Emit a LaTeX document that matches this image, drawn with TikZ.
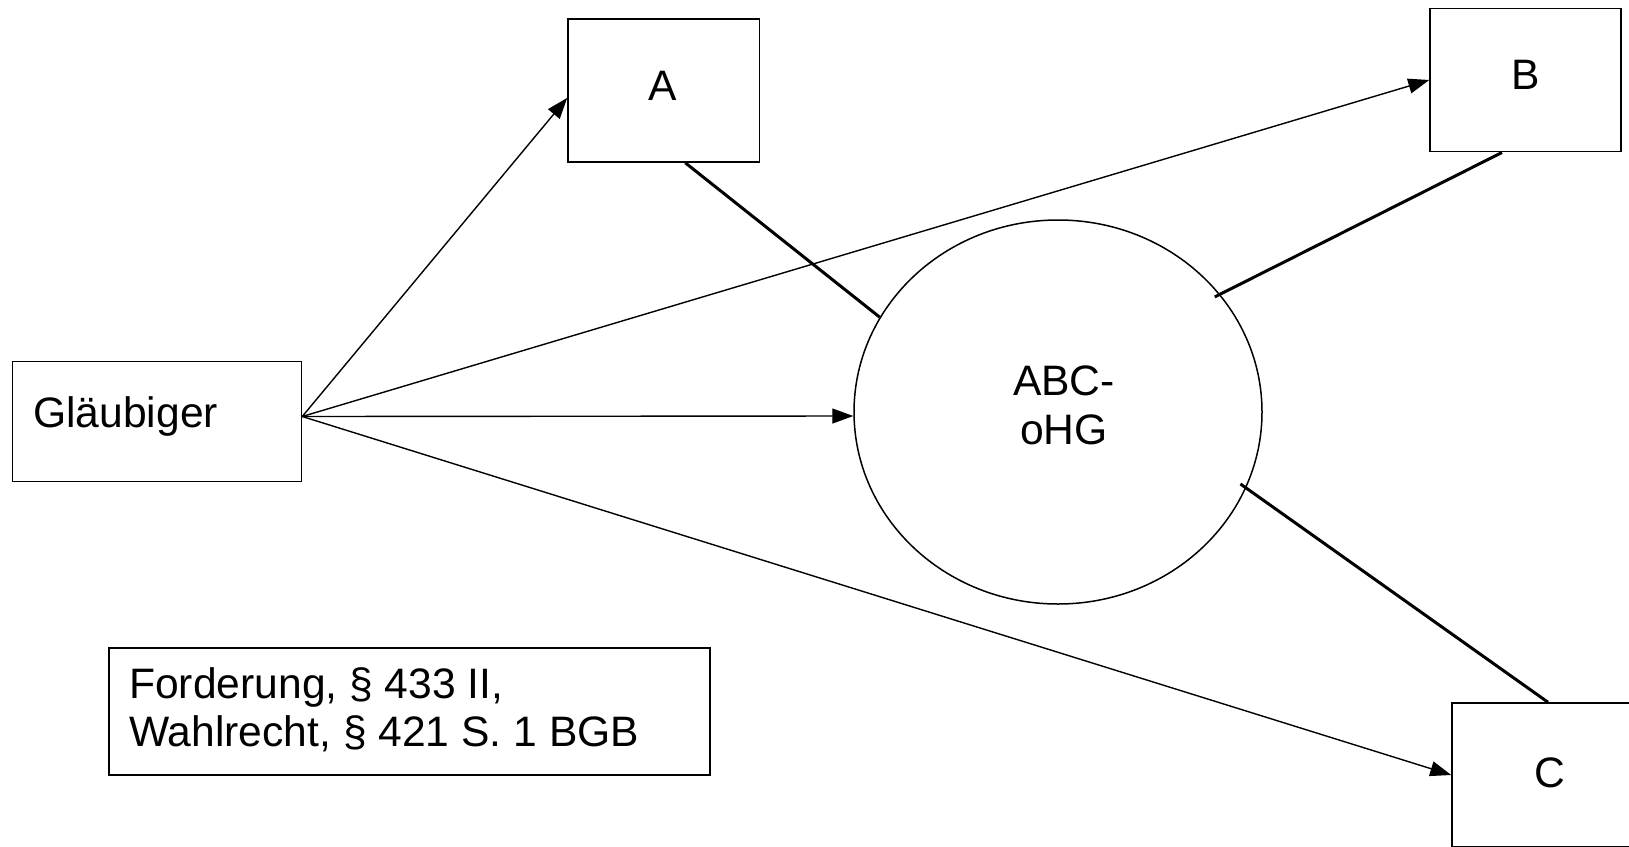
\documentclass[tikz,border=0pt]{standalone}
\usepackage{fontspec}
\setmainfont{Liberation Sans}
\usetikzlibrary{arrows.meta,shapes.geometric,calc}
\begin{document}
\begin{tikzpicture}[x=1pt,y=-1pt,
  box/.style={draw, line width=1.5pt, inner sep=0pt, fill=none},
  lbl/.style={inner sep=0pt, font=\fontsize{42.6}{48}\selectfont},
  arr/.style={line width=1.4pt, -{Triangle[length=21pt,width=15pt]}},
  tie/.style={line width=3pt}]
\useasboundingbox (0,0) rectangle (1629,846);
% boxes
\node[box, minimum width=289pt, minimum height=120pt] (G) at (157,421.5) {};
\node[box, minimum width=191.5pt, minimum height=143.3pt] (A) at (663.75,90.4) {};
\node[box, minimum width=191pt, minimum height=143.4pt] (B) at (1525.5,80) {};
\node[box, minimum width=192pt, minimum height=144pt] (C) at (1548,775) {};
\node[box, ellipse, minimum width=408pt, minimum height=384pt] (E) at (1058,412) {};
\node[box, minimum width=601pt, minimum height=127pt] (F) at (409.5,711.5) {};
% texts
\node[lbl, anchor=base west] (tG) at (33,427) {Gläubiger};
\node[lbl, anchor=base] (tA) at (663,100) {A};
\node[lbl, anchor=base] (tB) at (1526,89) {B};
\node[lbl, anchor=base] (tC) at (1550,787) {C};
\node[lbl, anchor=base] (tE1) at (1064,395) {ABC-};
\node[lbl, anchor=base] (tE2) at (1064,444) {oHG};
\node[lbl, anchor=base west] (tF1) at (129,698) {Forderung, § 433 II,};
\node[lbl, anchor=base west] (tF2) at (129,746) {Wahlrecht, § 421 S. 1 BGB};
% arrows
\coordinate (gs) at ([yshift=5pt]G.east);
\draw[arr] (gs) -- ([yshift=-7.5pt]A.west);
\draw[arr] (gs) -- (B.west);
\draw[arr] (gs) -- ([yshift=-4pt]E.west);
\draw[arr] (gs) -- (C.west);
% ties
\draw[tie] ([xshift=21.5pt]A.south) -- (E.152.7);
\draw[tie, shorten >=-6pt] ([xshift=-23.5pt]B.south) -- (E.36.8);
\draw[tie, shorten >=-7pt] (C.north) -- (E.-22.6);
\end{tikzpicture}
\end{document}
